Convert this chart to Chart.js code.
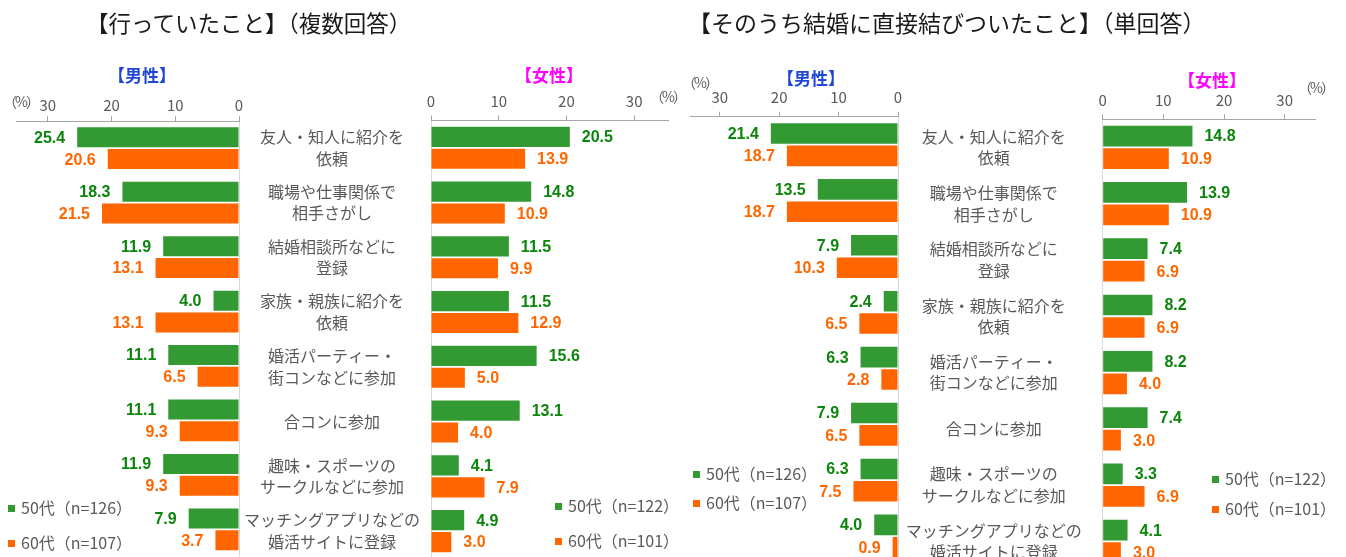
<!DOCTYPE html>
<html lang="ja">
<head>
<meta charset="utf-8">
<script src="https://cdn.jsdelivr.net/npm/chart.js@4.4.1/dist/chart.umd.min.js"></script>
<style>
  body { margin: 0; width: 1346px; height: 557px; overflow: hidden; background: #fff; position: relative;
         font-family: 'Noto Sans CJK JP', 'Noto Sans', sans-serif; }
  canvas { position: absolute; left: 0; top: 0; }
  .title { position: absolute; line-height: 26px; color: #1a1a1a; white-space: nowrap; }
  .head { position: absolute; width: 100px; text-align: center; font-size: 17px; line-height: 22px; font-weight: bold; }
  .pct { position: absolute; font-size: 14px; line-height: 16px; color: #595959; white-space: nowrap; letter-spacing: -2px; }
  .leg { position: absolute; font-size: 16px; line-height: 22px; color: #595959; white-space: nowrap; }
  .sw { display: inline-block; width: 7px; height: 7px; margin-right: 6px; position: relative; top: -2px; }
</style>
</head>
<body>
<canvas id="c1" width="1346" height="600"></canvas>
<canvas id="c2" width="1346" height="600"></canvas>
<canvas id="c3" width="1346" height="600"></canvas>
<canvas id="c4" width="1346" height="600"></canvas>

<div class="title" style="left:86px;top:9px;font-size:22.5px">【行っていたこと】（複数回答）</div>
<div class="title" style="left:688px;top:9px;font-size:23px">【そのうち結婚に直接結びついたこと】（単回答）</div>

<div class="head" style="left:92px;top:64px;color:#2046d8">【男性】</div>
<div class="head" style="left:499px;top:64px;color:#ff00ff">【女性】</div>
<div class="head" style="left:761px;top:67px;color:#2046d8">【男性】</div>
<div class="head" style="left:1162px;top:69px;color:#ff00ff">【女性】</div>

<div class="pct" style="left:3px;top:93px">（%）</div>
<div class="pct" style="left:650px;top:88px">（%）</div>
<div class="pct" style="left:682px;top:74px">（%）</div>
<div class="pct" style="left:1298px;top:79px">（%）</div>

<script>
// 項目
const categories = [
    ['友人・知人に紹介を', '依頼'],
    ['職場や仕事関係で', '相手さがし'],
    ['結婚相談所などに', '登録'],
    ['家族・親族に紹介を', '依頼'],
    ['婚活パーティー・', '街コンなどに参加'],
    ['合コンに参加'],
    ['趣味・スポーツの', 'サークルなどに参加'],
    ['マッチングアプリなどの', '婚活サイトに登録']
];
const tickValues = [0, 10, 20, 30];
const axisMax = 35;

// 【行っていたこと】（複数回答）
const doneMale50 = [25.4, 18.3, 11.9, 4.0, 11.1, 11.1, 11.9, 7.9];
const doneMale60 = [20.6, 21.5, 13.1, 13.1, 6.5, 9.3, 9.3, 3.7];
const doneFemale50 = [20.5, 14.8, 11.5, 11.5, 15.6, 13.1, 4.1, 4.9];
const doneFemale60 = [13.9, 10.9, 9.9, 12.9, 5.0, 4.0, 7.9, 3.0];

// 【そのうち結婚に直接結びついたこと】（単回答）
const ledMale50 = [21.4, 13.5, 7.9, 2.4, 6.3, 7.9, 6.3, 4.0];
const ledMale60 = [18.7, 18.7, 10.3, 6.5, 2.8, 6.5, 7.5, 0.9];
const ledFemale50 = [14.8, 13.9, 7.4, 8.2, 8.2, 7.4, 3.3, 4.1];
const ledFemale60 = [10.9, 10.9, 6.9, 6.9, 4.0, 3.0, 6.9, 3.0];

const seriesNames = ['50代', '60代'];
const maleLegend = ['50代（n=126）', '60代（n=107）'];
const femaleLegend = ['50代（n=122）', '60代（n=101）'];

// 色
const barColors = ['#339933', '#ff6600'];
const textColors = ['#0b850b', '#ff6600'];
const gray = '#595959';
const fontFamily = "'Noto Sans CJK JP', 'Noto Sans', sans-serif";

// 棒の端に数値を表示
const valueLabels = {
    id: 'valueLabels',
    afterDatasetsDraw(chart) {
        const ctx = chart.ctx;
        const rev = chart.options.scales.x.reverse;
        ctx.save();
        ctx.font = "bold 16px 'Liberation Sans', Arial, sans-serif";
        ctx.textBaseline = 'middle';
        ctx.textAlign = rev ? 'right' : 'left';
        chart.data.datasets.forEach((ds, i) => {
            ctx.fillStyle = textColors[i];
            chart.getDatasetMeta(i).data.forEach((bar, j) => {
                const x = rev ? bar.x - 12 : bar.x + 12;
                ctx.fillText(ds.data[j].toFixed(1), x, bar.y + 1);
            });
        });
        ctx.restore();
    }
};

function makeChart(id, v50, v60, g) {
    const female = !!g.labelWidth;
    const yScale = female ? {
        position: 'left',
        grid: { display: false },
        border: { display: false },
        ticks: {
            color: gray,
            font: { family: fontFamily, size: 16, lineHeight: 1.35 },
            crossAlign: 'center',
            padding: g.labelPad,
            autoSkip: false
        },
        afterFit: s => { s.width = g.labelWidth; s.paddingTop = 0; s.paddingBottom = 0; }
    } : { display: false };

    return new Chart(document.getElementById(id), {
        type: 'bar',
        data: {
            labels: categories,
            datasets: [
                { label: seriesNames[0], data: v50, backgroundColor: barColors[0] },
                { label: seriesNames[1], data: v60, backgroundColor: barColors[1] }
            ]
        },
        options: {
            indexAxis: 'y',
            responsive: false,
            animation: false,
            layout: {
                padding: { left: g.left - (g.labelWidth || 0), right: 1346 - g.right, top: 0, bottom: 600 - g.bottom }
            },
            datasets: { bar: { categoryPercentage: 0.8, barPercentage: 0.92 } },
            plugins: { legend: { display: false }, tooltip: { enabled: false } },
            scales: {
                x: {
                    position: 'top',
                    min: 0,
                    max: axisMax,
                    reverse: !female,
                    afterBuildTicks: s => { s.ticks = tickValues.map(v => ({ value: v })); },
                    afterFit: s => { s.height = g.top; s.paddingLeft = 0; s.paddingRight = 0; },
                    grid: {
                        color: c => (c.tick && c.tick.value === 0) ? '#d9d9d9' : 'rgba(0,0,0,0)',
                        tickColor: '#a6a6a6',
                        tickLength: 5
                    },
                    border: { color: '#a6a6a6' },
                    ticks: { color: gray, font: { family: fontFamily, size: 15 }, padding: g.tickPad, maxRotation: 0 }
                },
                y: yScale
            }
        },
        plugins: [valueLabels]
    });
}

makeChart('c1', doneMale50, doneMale60, { left: 16, right: 239, top: 121, bottom: 556.5, tickPad: 2 });
makeChart('c2', doneFemale50, doneFemale60, { left: 431, right: 668, top: 120.4, bottom: 558.5, tickPad: 5, labelWidth: 190, labelPad: 3 });
makeChart('c3', ledMale50, ledMale60, { left: 690, right: 898, top: 116.7, bottom: 564, tickPad: 5.5 });
makeChart('c4', ledFemale50, ledFemale60, { left: 1102.7, right: 1315, top: 119.2, bottom: 569.6, tickPad: 5, labelWidth: 200, labelPad: 13 });

// 凡例
function addLegend(labels, x, ys) {
    ys.forEach((y, i) => {
        const d = document.createElement('div');
        d.className = 'leg';
        d.style.left = x + 'px';
        d.style.top = (y - 11) + 'px';
        d.innerHTML = '<span class="sw" style="background:' + barColors[i] + '"></span>' + labels[i];
        document.body.appendChild(d);
    });
}
addLegend(maleLegend, 8, [507, 542]);
addLegend(femaleLegend, 555, [505, 540]);
addLegend(maleLegend, 693, [473, 502]);
addLegend(femaleLegend, 1212, [478, 508]);
</script>
</body>
</html>
